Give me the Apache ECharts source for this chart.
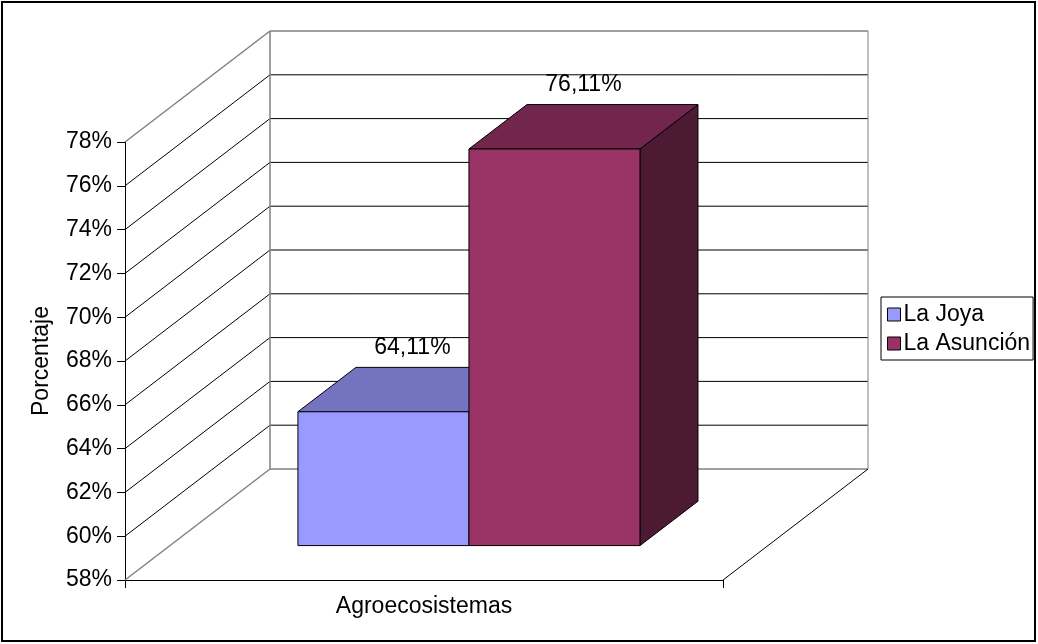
<!DOCTYPE html>
<html>
<head>
<meta charset="utf-8">
<script src="https://cdn.jsdelivr.net/npm/echarts@6/dist/echarts.min.js"></script>
<style>
  html, body { margin: 0; padding: 0; background: #fff; }
  #main { width: 1038px; height: 644px; }
</style>
</head>
<body>
<div id="main"></div>
<script>
// datos
var categories = ['Agroecosistemas'];
var seriesNames = ['La Joya', 'La Asunción'];
var laJoya = [64.11];
var laAsuncion = [76.11];
var yTicks = [58, 60, 62, 64, 66, 68, 70, 72, 74, 76, 78];

// profundidad de la caja 3D (pixeles)
var DEPTH = [145, -111];
var BAR_OFF = 0.31, BAR_DEPTH = 0.40, BAR_FRAC = 0.286;

var colors = [
  { front: '#9999FF', top: '#7373BF', side: '#4D4D80' },
  { front: '#993366', top: '#73264D', side: '#4D1A33' }
];

var font = 'Liberation Sans, Arial, sans-serif';
var fs = 23;

function wallItem(params, api) {
  var cs = params.coordSys;
  var v = api.value(1);
  var y = api.coord([0, v])[1];
  var x0 = cs.x, x1 = cs.x + cs.width;
  var first = v === yTicks[0], last = v === yTicks[yTicks.length - 1];
  var col = (first || last) ? '#808080' : '#000';
  var lw = (first || last) ? 1.5 : 1;
  var kids = [
    { type: 'line', shape: { x1: x0, y1: y, x2: x0 + DEPTH[0], y2: y + DEPTH[1] }, style: { stroke: col, lineWidth: lw } },
    { type: 'line', shape: { x1: x0 + DEPTH[0], y1: y + DEPTH[1], x2: x1 + DEPTH[0], y2: y + DEPTH[1] }, style: { stroke: col, lineWidth: lw } }
  ];
  if (first) {
    kids.push({ type: 'line', shape: { x1: x1, y1: y, x2: x1 + DEPTH[0], y2: y + DEPTH[1] }, style: { stroke: '#000', lineWidth: 1 } });
  }
  if (last) {
    var yb = api.coord([0, yTicks[0]])[1];
    kids.push({ type: 'line', shape: { x1: x0 + DEPTH[0], y1: y + DEPTH[1], x2: x0 + DEPTH[0], y2: yb + DEPTH[1] }, style: { stroke: '#808080', lineWidth: 1.5 } });
    kids.push({ type: 'line', shape: { x1: x1 + DEPTH[0], y1: y + DEPTH[1], x2: x1 + DEPTH[0], y2: yb + DEPTH[1] }, style: { stroke: '#808080', lineWidth: 1 } });
  }
  return { type: 'group', children: kids };
}

function barItem(slot) {
  return function (params, api) {
    var c = colors[slot];
    var val = api.value(1);
    var top = api.coord([api.value(0), val]);
    var base = api.coord([api.value(0), yTicks[0]]);
    var band = api.size([1, 0])[0];
    var w = band * BAR_FRAC;
    var o = [DEPTH[0] * BAR_OFF, DEPTH[1] * BAR_OFF];
    var d = [DEPTH[0] * BAR_DEPTH, DEPTH[1] * BAR_DEPTH];
    var xl = top[0] - w + slot * w + o[0];
    var xr = xl + w;
    var yt = top[1] + o[1];
    var yb = base[1] + o[1];
    var border = { stroke: '#000', lineWidth: 1 };
    return {
      type: 'group',
      children: [
        { type: 'polygon', shape: { points: [[xr, yt], [xr + d[0], yt + d[1]], [xr + d[0], yb + d[1]], [xr, yb]] },
          style: Object.assign({ fill: c.side }, border) },
        { type: 'polygon', shape: { points: [[xl, yt], [xr, yt], [xr + d[0], yt + d[1]], [xl + d[0], yt + d[1]]] },
          style: Object.assign({ fill: c.top }, border) },
        { type: 'rect', shape: { x: xl, y: yt, width: w, height: yb - yt },
          style: Object.assign({ fill: c.front }, border) },
        { type: 'text', x: xl + w / 2 + d[0] / 2, y: yt + d[1] - 8,
          style: { text: val.toFixed(2).replace('.', ',') + '%', fill: '#000', font: fs + 'px ' + font,
                   align: 'center', verticalAlign: 'bottom' } }
      ]
    };
  };
}

var chart = echarts.init(document.getElementById('main'));
chart.setOption({
  animation: false,
  backgroundColor: '#fff',
  textStyle: { fontFamily: font },
  graphic: [{
    type: 'rect', shape: { x: 2, y: 2, width: 1033, height: 639 },
    style: { fill: 'none', stroke: '#000', lineWidth: 2 }, z: 100
  }],
  legend: {
    data: seriesNames,
    orient: 'vertical',
    left: 881, top: 297,
    padding: [6, 3, 5, 6],
    itemWidth: 13, itemHeight: 13, itemGap: 6,
    icon: 'rect',
    borderColor: '#000', borderWidth: 1,
    itemStyle: { borderColor: '#000', borderWidth: 1 },
    textStyle: { fontSize: fs, color: '#000', fontFamily: font, padding: [0, 0, 0, -2] }
  },
  grid: { left: 125, top: 142, width: 598, height: 438 },
  xAxis: {
    type: 'category',
    data: categories,
    axisLine: { lineStyle: { color: '#000', width: 1 } },
    axisTick: { show: true, length: 8, lineStyle: { color: '#000' } },
    axisLabel: { fontSize: fs, color: '#000', margin: 15, fontFamily: font },
    splitLine: { show: false }
  },
  yAxis: {
    type: 'value',
    min: 58, max: 78, interval: 2,
    name: 'Porcentaje',
    nameLocation: 'middle',
    nameRotate: 90,
    nameGap: 72,
    nameTextStyle: { fontSize: fs, color: '#000', fontFamily: font },
    axisLine: { show: true, lineStyle: { color: '#000', width: 1 } },
    axisTick: { show: true, length: 8, lineStyle: { color: '#000' } },
    axisLabel: { fontSize: fs, color: '#000', margin: 13, fontFamily: font, formatter: '{value}%' },
    splitLine: { show: false }
  },
  series: [
    {
      name: 'walls', type: 'custom', z: 1, silent: true,
      data: yTicks.map(function (v) { return [0, v]; }),
      renderItem: wallItem
    },
    {
      name: seriesNames[0], type: 'custom', z: 2,
      itemStyle: { color: colors[0].front, borderColor: '#000', borderWidth: 1 },
      data: laJoya.map(function (v, i) { return [i, v]; }),
      renderItem: barItem(0)
    },
    {
      name: seriesNames[1], type: 'custom', z: 3,
      itemStyle: { color: colors[1].front, borderColor: '#000', borderWidth: 1 },
      data: laAsuncion.map(function (v, i) { return [i, v]; }),
      renderItem: barItem(1)
    }
  ]
});
</script>
</body>
</html>
